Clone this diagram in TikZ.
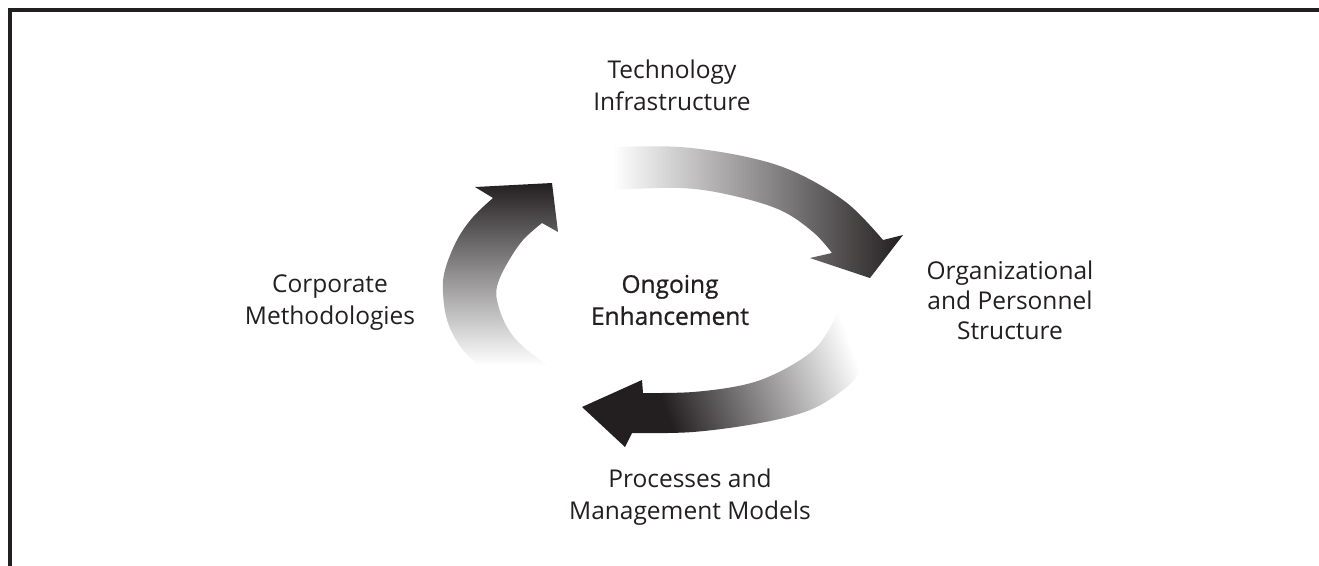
\documentclass[tikz,border=0pt]{standalone}
\usepackage{fontspec}
\setmainfont{Open Sans}
\newfontfamily\medfont{Open Sans}[FakeBold=0.8]
\definecolor{arrdark}{HTML}{231F20}
\definecolor{txt}{HTML}{231F20}
\pgfdeclarehorizontalshading{toparr}{100bp}{color(0bp)=(white); color(25bp)=(white); color(75bp)=(arrdark); color(100bp)=(arrdark)}
\pgfdeclarehorizontalshading{rightarr}{100bp}{color(0bp)=(arrdark); color(25bp)=(arrdark); color(35bp)=(arrdark); color(72bp)=(white); color(100bp)=(white)}
\pgfdeclareverticalshading{leftarr}{100bp}{color(0bp)=(white); color(25bp)=(white); color(28bp)=(white); color(75bp)=(arrdark); color(100bp)=(arrdark)}
\tikzset{
  lbl/.style={align=center, text=txt, font=\fontsize{24.5}{32}\selectfont, inner sep=0pt},
  lblt/.style={lbl, font=\fontsize{24.5}{30}\selectfont},
  ctr/.style={align=center, text=txt, font=\fontsize{24.5}{32}\selectfont\medfont, inner sep=0pt},
  frame/.style={draw=arrdark, line width=3.2pt}
}
\begin{document}
\begin{tikzpicture}[x=1pt,y=-1pt]
\useasboundingbox (0,0) rectangle (1319,565);
% frame
\coordinate (fbl) at (10,567);
\coordinate (ftl) at (10,10);
\coordinate (ftr) at (1321,10);
\draw[frame] (fbl) -- (ftl) -- (ftr);
% top arrow
\shade[shading=toparr]
  plot[smooth, tension=0.6] coordinates {(613,147) (680,147) (747,157) (797,173) (847,203) (883,240)}
  -- (903,235) -- (870,278) -- (810,258) -- (832,253)
  -- plot[smooth, tension=0.6] coordinates {(832,253) (813,232) (780,210) (730,195) (680,188) (613,190)}
  -- cycle;
% right arrow
\shade[shading=rightarr, shading angle=20]
  plot[smooth, tension=0.6] coordinates {(893,305) (888,330) (880,347) (860,373) (843,390) (810,410) (760,423) (693,432) (632,433)}
  -- (625,447) -- (582,407) -- (642,380) -- (643,393)
  -- plot[smooth, tension=0.6] coordinates {(643,393) (693,392) (743,385) (777,373) (810,353) (827,333) (842,303)}
  -- cycle;
% left arrow
\shade[shading=leftarr]
  (475,187) -- (552,183) -- (558,232) -- (542,223)
  -- plot[smooth, tension=0.6] coordinates {(542,223) (523,240) (508,262) (498,283) (497,300) (507,327) (527,350) (567,377)}
  -- plot[smooth, tension=0.6] coordinates {(487,373) (463,350) (448,323) (443,293) (445,270) (457,240) (473,217) (493,198)}
  -- cycle;
% labels
\node[lbl] (tech) at (672,85) {Technology\\Infrastructure};
\node[lblt] (org) at (1010,300) {Organizational\\and Personnel\\Structure};
\node[lbl] (corp) at (330,303) {Corporate\\Methodologies};
\node[lbl] (proc) at (690,497) {Processes and\\Management Models};
\node[ctr] (ongo) at (670,300) {Ongoing\\Enhancement};
\end{tikzpicture}
\end{document}
